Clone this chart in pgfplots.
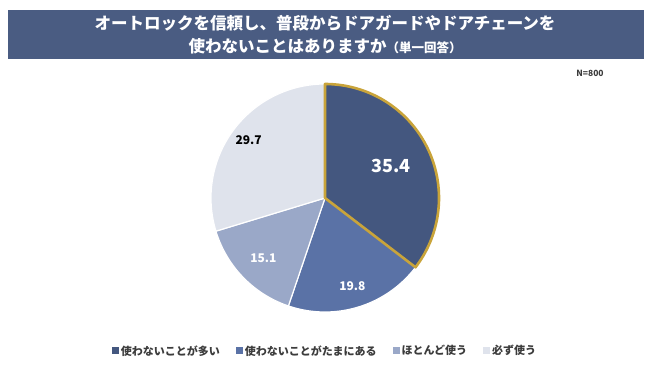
\documentclass[border=0pt]{standalone}
\usepackage{fontspec}
\setmainfont{Noto Sans CJK JP}
\usepackage{pgfplots}
\pgfplotsset{compat=1.18}
\definecolor{cA}{HTML}{44577F}
\definecolor{cB}{HTML}{5A72A6}
\definecolor{cC}{HTML}{9AA8C8}
\definecolor{cD}{HTML}{DFE3EC}
\definecolor{banner}{HTML}{4A5C82}
\definecolor{gold}{HTML}{C9A43A}
\definecolor{legtext}{HTML}{3C3C3C}
% shares (%)
\def\vA{35.4}
\def\vB{19.8}
\def\vC{15.1}
\def\vD{29.7}
\begin{document}
\begin{tikzpicture}[x=1pt,y=1pt]
\fill[white] (0,0) rectangle (650,366);
\fill[banner] (8,307) rectangle (644,356);
\node[white, font=\bfseries\fontsize{16.5}{20}\selectfont] at (325,343) {オートロックを信頼し、普段からドアガードやドアチェーンを};
\node[white, font=\bfseries\fontsize{16.5}{20}\selectfont] at (325,320) {使わないことはありますか{\fontsize{12.5}{14}\selectfont（単一回答）}};
\node[font=\bfseries\fontsize{8.5}{10}\selectfont, text=legtext] at (590,293) {N=800};
\coordinate (pc) at (325,168);
\pgfmathsetmacro{\aA}{90}
\pgfmathsetmacro{\aB}{90-3.6*\vA}
\pgfmathsetmacro{\aC}{\aB-3.6*\vB}
\pgfmathsetmacro{\aD}{\aC-3.6*\vC}
\pgfmathsetmacro{\aE}{\aD-3.6*\vD}
\begin{axis}[at={(pc)}, anchor=origin, x=114pt, y=114pt,
  xmin=-1.06, xmax=1.06, ymin=-1.06, ymax=1.06,
  hide axis, clip=false,
  legend style={at={(0.5,-0.133)}, anchor=center, draw=none, fill=none,
    legend columns=4, font=\bfseries\fontsize{11}{12}\selectfont, text=legtext,
    /tikz/every even column/.append style={column sep=14pt}},
  legend image code/.code={\fill[#1, draw=none] (0pt,-3.5pt) rectangle (7pt,3.5pt);}]
\addplot[fill=cA, draw=white, line width=1.2pt, domain=\aB:\aA, samples=90] ({cos(x)},{sin(x)}) -- (0,0) -- cycle;
\addlegendentry{使わないことが多い}
\addplot[fill=cB, draw=white, line width=1.2pt, domain=\aC:\aB, samples=60] ({cos(x)},{sin(x)}) -- (0,0) -- cycle;
\addlegendentry{使わないことがたまにある}
\addplot[fill=cC, draw=white, line width=1.2pt, domain=\aD:\aC, samples=50] ({cos(x)},{sin(x)}) -- (0,0) -- cycle;
\addlegendentry{ほとんど使う}
\addplot[fill=cD, draw=white, line width=1.2pt, domain=\aE:\aD, samples=80] ({cos(x)},{sin(x)}) -- (0,0) -- cycle;
\addlegendentry{必ず使う}
\addplot[draw=gold, line width=2.6pt, line join=round, domain=\aB:\aA, samples=90, forget plot] ({cos(x)},{sin(x)}) -- (0,0) -- cycle;
\node[white, font=\bfseries\fontsize{18}{20}\selectfont] at (axis cs:0.58,0.28) {35.4};
\node[white, font=\bfseries\fontsize{12}{14}\selectfont] at (axis cs:0.24,-0.77) {19.8};
\node[white, font=\bfseries\fontsize{12}{14}\selectfont] at (axis cs:-0.54,-0.53) {15.1};
\node[black, font=\bfseries\fontsize{12}{14}\selectfont] at (axis cs:-0.67,0.51) {29.7};
\end{axis}
\end{tikzpicture}
\end{document}
